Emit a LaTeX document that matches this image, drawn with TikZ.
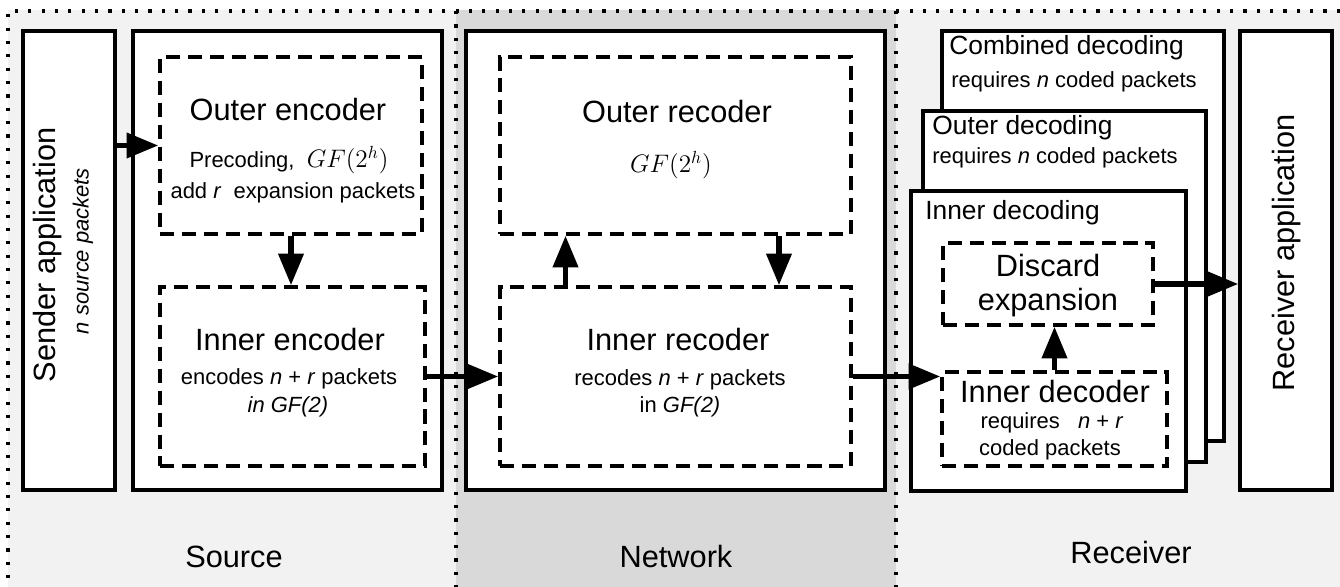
\documentclass[tikz,border=0pt]{standalone}
\usepackage{fontspec}
\setmainfont{Liberation Sans}
\usetikzlibrary{arrows.meta,fit}
\definecolor{srcgray}{HTML}{F2F2F2}
\definecolor{netgray}{HTML}{D9D9D9}
\newcommand{\bigtxt}{\fontsize{17.5}{21}\selectfont}
\newcommand{\midtxt}{\fontsize{15}{18}\selectfont}
\newcommand{\smalltxt}{\fontsize{12.5}{15}\selectfont}
\newcommand{\gfh}{{\fontsize{14.5}{17}\selectfont$GF(2^h)$}}

\begin{document}
\begin{tikzpicture}[x=0.02cm,y=-0.02cm,
  box/.style={draw,line width=2pt,fill=white,inner sep=0pt},
  dbox/.style={draw,line width=2pt,dash pattern=on 8pt off 4.5pt,fill=white,inner sep=0pt},
  sep/.style={line width=1.8pt,dash pattern=on 1.8pt off 5.8pt},
  arr/.style={line width=3pt,-{Triangle[length=18pt,width=14pt]}},
  txt/.style={inner sep=0pt}]
\useasboundingbox (0,0) rectangle (1340,587);

% regions
\fill[srcgray] (8,10) rectangle (456,587);
\fill[netgray] (456,10) rectangle (896,587);
\fill[srcgray] (896,10) rectangle (1340,587);
\draw[sep] (1340,11) -- (8,11) -- (8,587);
\draw[sep] (456,11) -- (456,587);
\draw[sep] (896,11) -- (896,587);

% source side
\node[box,fit={(23,31) (115,490)}] (sender) {};
\node[box,fit={(133,31) (442,490)}] (srcbox) {};
\node[dbox,fit={(160,57) (422,234)}] (outenc) {};
\node[dbox,fit={(160,287) (425,466)}] (inenc) {};

% network
\node[box,fit={(466,31) (885,490)}] (netbox) {};
\node[dbox,fit={(500,57) (851,234)}] (outrec) {};
\node[dbox,fit={(500,287) (851,466)}] (inrec) {};

% receiver side
\node[box,fit={(942,31) (1224,441)}] (combdec) {};
\node[box,fit={(923,111) (1206,462)}] (outdec) {};
\node[box,fit={(911,191) (1186,491)}] (inndec) {};
\node[dbox,fit={(943,243) (1153,325)}] (discard) {};
\node[dbox,fit={(942,372) (1167,466)}] (indec) {};
\node[box,fit={(1240,31) (1332,490)}] (recvapp) {};

% texts
\node[txt,rotate=90] (sendtxt) at (48,255) {\bigtxt Sender application};
\node[txt,rotate=90] (srcpkt) at (83,251) {\smalltxt\itshape n source packets};
\node[txt,rotate=90] (recvtxt) at (1287,253) {\bigtxt Receiver application};

\node[txt] (outenct) at (288,110) {\bigtxt Outer encoder};
\node[txt] (precod) at (289,160) {\smalltxt Precoding,\ \ \gfh};
\node[txt] (addr) at (293,193) {\smalltxt add \textit{r}\ \ expansion packets};
\node[txt] (inenct) at (290,340) {\bigtxt Inner encoder};
\node[txt] (encnr) at (289,379) {\smalltxt encodes \textit{n} + \textit{r} packets};
\node[txt] (engf) at (288,407) {\smalltxt\itshape in GF(2)};

\node[txt] (outrect) at (677,112) {\bigtxt Outer recoder};
\node[txt] (recgf) at (671,165) {\gfh};
\node[txt] (inrect) at (678,340) {\bigtxt Inner recoder};
\node[txt] (recnr) at (680,380) {\smalltxt recodes \textit{n} + \textit{r} packets};
\node[txt] (recgf2) at (680,407) {\smalltxt in \textit{GF(2)}};

\node[txt,anchor=west] (combt) at (949,48) {\midtxt Combined decoding};
\node[txt,anchor=west] (combn) at (951,82) {\smalltxt requires \textit{n} coded packets};
\node[txt,anchor=west] (outdt) at (932,128) {\midtxt Outer decoding};
\node[txt,anchor=west] (outdn) at (932,158) {\smalltxt requires \textit{n} coded packets};
\node[txt,anchor=west] (inndt) at (925,213) {\midtxt Inner decoding};
\node[txt] (disct) at (1048,266) {\bigtxt Discard};
\node[txt] (expt) at (1048,303) {\bigtxt expansion};
\node[txt] (indect) at (1055,392) {\bigtxt Inner decoder};
\node[txt] (indnr) at (1052,423) {\smalltxt requires\ \ \ \textit{n} + \textit{r}};
\node[txt] (indcp) at (1050,450) {\smalltxt coded packets};

\node[txt] (srclab) at (234,557) {\bigtxt Source};
\node[txt] (netlab) at (676,557) {\bigtxt Network};
\node[txt] (rcvlab) at (1131,553) {\bigtxt Receiver};

% connectors
\draw[arr] (outenc.west -| sender.east) -- (outenc.west);
\draw[arr] (outenc.south) -- (outenc.south |- inenc.north);
\draw[arr] (inenc.east) -- (inenc.east -| inrec.west);
\draw[arr] ([xshift=-2.2cm]inrec.north) -- ([xshift=-2.2cm]inrec.north |- outrec.south);
\draw[arr] ([xshift=2.07cm]outrec.south) -- ([xshift=2.07cm]outrec.south |- inrec.north);
\draw[arr] (inrec.east) -- (inrec.east -| indec.west);
\draw[arr] (indec.north) -- (indec.north |- discard.south);
\draw[arr] (discard.east) -- (discard.east -| recvapp.west);
\end{tikzpicture}
\end{document}
